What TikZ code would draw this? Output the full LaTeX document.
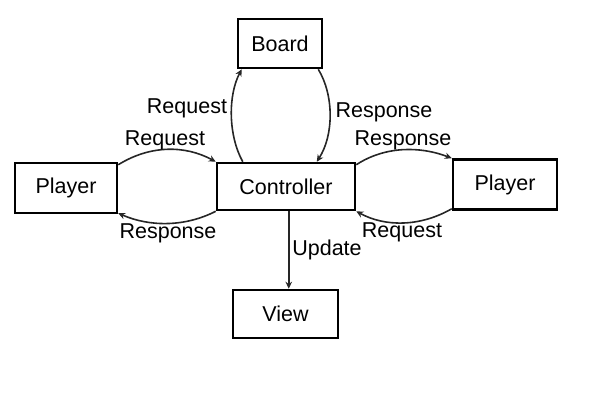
\documentclass[tikz,border=0pt]{standalone}
\usepackage{fontspec}
\setmainfont{Liberation Sans}
\usetikzlibrary{calc,arrows.meta}
\begin{document}
\begin{tikzpicture}[x=1pt,y=-1pt,
  box/.style={draw,line width=2.5pt,inner sep=0pt,font=\fontsize{21.5}{24}\selectfont},
  conn/.style={line width=1.6pt,draw=black!85,-{Stealth[length=7pt,width=6.5pt]}},
  lbl/.style={inner sep=0pt,font=\fontsize{21.5}{24}\selectfont}]
\useasboundingbox (0,0) rectangle (600,400);
\node[box,minimum width=84pt,minimum height=49pt] (board) at (280,43.5) {Board};
\node[box,minimum width=138pt,minimum height=47pt] (ctrl) at (286,186.5) {Controller};
\node[box,minimum width=102pt,minimum height=50pt] (pl) at (66,188) {Player};
\node[box,minimum width=104pt,minimum height=50pt] (pr) at (505,184.5) {Player};
\node[box,minimum width=105pt,minimum height=48pt] (view) at (285.5,314) {View};
% Controller <-> Board
\draw[conn] ($(ctrl.north west)+(27,0)$) .. controls (228,135) and (228,95) .. ($(board.south west)+(5,0)$);
\draw[conn] ($(board.south east)+(-5,0)$) .. controls (334,95) and (334,135) .. ($(ctrl.north west)+(101,0)$);
% Left player
\draw[conn] ($(pl.north east)+(0,3)$) .. controls (150,145) and (185,145) .. ($(ctrl.north west)+(0,0)$);
\draw[conn] ($(ctrl.south west)$) .. controls (185,227) and (150,227) .. ($(pl.south east)+(0,-1)$);
% Right player
\draw[conn] ($(ctrl.north east)+(0,3)$) .. controls (385,146) and (420,146) .. ($(pr.north west)$);
\draw[conn] ($(pr.south west)+(0,-2)$) .. controls (420,227) and (385,227) .. ($(ctrl.south east)$);
% View
\draw[conn] ($(ctrl.south west)+(73,0)$) -- ($(view.north west)+(57,0)$);
% labels
\node[lbl] (l1) at (187,108) {Request};
\node[lbl] (l2) at (384,112) {Response};
\node[lbl] (l3) at (165,140) {Request};
\node[lbl] (l4) at (403,140) {Response};
\node[lbl] (l5) at (168,233) {Response};
\node[lbl] (l6) at (402,232) {Request};
\node[lbl] (l7) at (327,250) {Update};
\end{tikzpicture}
\end{document}
